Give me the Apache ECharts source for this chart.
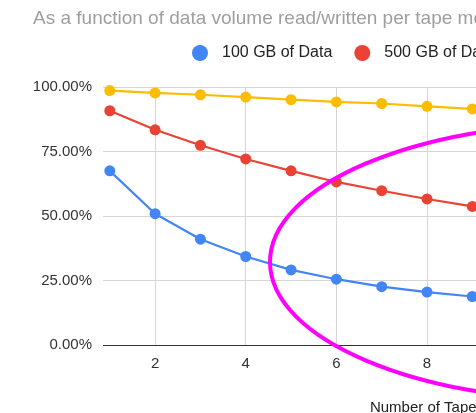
<!DOCTYPE html>
<html>
<head>
<meta charset="utf-8">
<script src="https://cdn.jsdelivr.net/npm/echarts@6/dist/echarts.min.js"></script>
<style>
html,body{margin:0;padding:0;overflow:hidden;background:#fff;width:476px;height:413px;}
#c{width:800px;height:413px;}
</style>
</head>
<body>
<div id="c"></div>
<script>
const tapes = [1, 2, 3, 4, 5, 6, 7, 8, 9];
const gb100 = [67.5, 50.9, 41.0, 34.3, 29.1, 25.5, 22.6, 20.5, 18.8];
const gb500 = [90.8, 83.4, 77.4, 72.1, 67.5, 63.2, 59.8, 56.6, 53.7];
const tb1 = [98.6, 97.7, 97.0, 96.1, 95.1, 94.2, 93.6, 92.5, 91.5];
const seriesNames = ['100 GB of Data', '500 GB of Data', '1 TB of Data'];
const xTicks = [2, 4, 6, 8, 10, 12, 14];
const subtitle = 'As a function of data volume read/written per tape mount';
const xName = 'Number of Tapes';

const FONT = 'Arial, "Liberation Sans", sans-serif';
const colors = ['#4285F4', '#EA4335', '#FBBC04'];
const pairs = a => tapes.map((t, i) => [t, a[i]]);

const chart = echarts.init(document.getElementById('c'), null, {renderer: 'canvas'});
chart.setOption({
  animation: false,
  color: colors,
  title: {
    text: subtitle,
    left: 28, top: 4,
    textStyle: {color: '#9e9e9e', fontSize: 19, fontWeight: 'normal', fontFamily: FONT}
  },
  legend: {
    left: 187, top: 40,
    icon: 'circle',
    itemWidth: 16, itemHeight: 16, itemGap: 22,
    data: seriesNames,
    textStyle: {color: '#222', fontSize: 16, fontFamily: FONT, padding: [0, 0, 0, 9]}
  },
  grid: {left: 103, top: 87, width: 648, bottom: 68, containLabel: false, outerBoundsMode: 'none'},
  xAxis: {
    type: 'value', min: 0.85, max: 15.15,
    name: xName, nameLocation: 'middle', nameGap: 55,
    nameTextStyle: {color: '#222', fontSize: 15, fontFamily: FONT},
    axisLine: {show: false},
    axisTick: {show: false, customValues: xTicks},
    axisLabel: {customValues: xTicks, color: '#333', fontSize: 15, fontFamily: FONT, margin: 11},
    splitLine: {show: true, lineStyle: {color: '#d6d6d6', width: 1}}
  },
  yAxis: {
    type: 'value', min: 0, max: 100, interval: 25,
    axisLine: {show: false}, axisTick: {show: false},
    axisLabel: {color: '#333', fontSize: 15, fontFamily: FONT, margin: 11,
      formatter: v => v.toFixed(2) + '%'},
    splitLine: {show: true, lineStyle: {color: '#d6d6d6', width: 1}}
  },
  graphic: [
    {type: 'line', shape: {x1: 103, y1: 345.5, x2: 751, y2: 345.5}, style: {stroke: '#333', lineWidth: 1.2}, z: 5},
    {type: 'ellipse', shape: {cx: 596, cy: 262, rx: 326, ry: 139},
     style: {fill: null, stroke: '#ff00ff', lineWidth: 4}, z: 100}
  ],
  series: [
    {name: seriesNames[0], type: 'line', data: pairs(gb100), symbol: 'circle', symbolSize: 11, lineStyle: {width: 2.2}},
    {name: seriesNames[1], type: 'line', data: pairs(gb500), symbol: 'circle', symbolSize: 11, lineStyle: {width: 2.2}},
    {name: seriesNames[2], type: 'line', data: pairs(tb1), symbol: 'circle', symbolSize: 11, lineStyle: {width: 2.2}}
  ]
});
</script>
</body>
</html>
